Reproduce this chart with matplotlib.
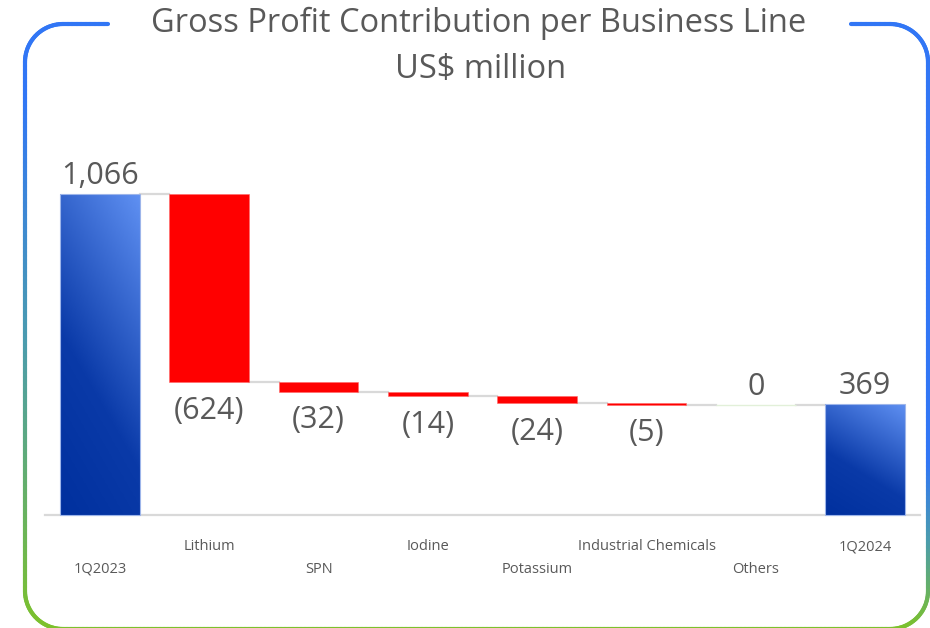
import numpy as np
import matplotlib
matplotlib.use("Agg")
import matplotlib.pyplot as plt
from matplotlib.collections import LineCollection
from matplotlib.colors import LinearSegmentedColormap

categories = ["1Q2023", "Lithium", "SPN", "Iodine", "Potassium",
              "Industrial Chemicals", "Others", "1Q2024"]
values = [1066, -624, -32, -14, -24, -5, 0, 369]
value_labels = ["1,066", "(624)", "(32)", "(14)", "(24)", "(5)", "0", "369"]
is_total = [True, False, False, False, False, False, False, True]

title = "Gross Profit Contribution per Business Line"
subtitle = r"US\$ million"

plt.rcParams["font.family"] = ["Open Sans", "DejaVu Sans"]
GRAY = "#595959"
RED = "#ff0000"
W, H = 930, 628

fig = plt.figure(figsize=(W / 100, H / 100), dpi=100)
ax = fig.add_axes([0, 0, 1, 1])
ax.axis("off")

bar_cmap = LinearSegmentedColormap.from_list(
    "bars", [(0, "#00309e"), (0.4, "#0a3aa8"), (1, "#5f90f2")])

# waterfall geometry
width = 0.73
n = len(values)
bottoms, tops = [], []
running = 0
for v, tot in zip(values, is_total):
    if tot:
        bottoms.append(0)
        tops.append(v)
        running = v
    else:
        bottoms.append(running)
        tops.append(running + v)
        running += v

u = np.linspace(0, 1, 60)
vv = np.linspace(0, 1, 200)
uu, vgrid = np.meshgrid(u, vv)
grad = 0.3 * uu + 0.7 * vgrid

for i, (b, t, tot) in enumerate(zip(bottoms, tops, is_total)):
    if tot:
        bar = ax.bar(i, t - b, bottom=b, width=width, color="none",
                     edgecolor="#9db5ea", linewidth=0.8, zorder=3)[0]
        im = ax.imshow(grad, extent=[i - width / 2, i + width / 2, b, t],
                       origin="lower", cmap=bar_cmap, aspect="auto", zorder=2)
        im.set_clip_path(bar)
    elif t == b:
        ax.bar(i, 0, bottom=b, width=width, color="#e2f0d9",
               edgecolor="#e2f0d9", linewidth=1.0, zorder=2)
    else:
        ax.bar(i, t - b, bottom=b, width=width, color=RED,
               edgecolor="#ff6666", linewidth=0.4, zorder=2)

# connectors
for i in range(n - 1):
    level = tops[i]
    ax.plot([i + width / 2, i + 1 - width / 2], [level, level],
            color="#d9d9d9", lw=1.6, zorder=1)

# baseline
ax.plot([-0.5, n - 0.5], [0, 0], color="#d9d9d9", lw=1.6, zorder=1)

# value labels
for i, (b, t, v, lab) in enumerate(zip(bottoms, tops, values, value_labels)):
    if v >= 0:
        ax.annotate(lab, (i, max(b, t)), xytext=(0, 2), textcoords="offset points",
                    ha="center", va="bottom", fontsize=22, color=GRAY)
    else:
        ax.annotate(lab, (i, min(b, t)), xytext=(0, -10), textcoords="offset points",
                    ha="center", va="top", fontsize=22, color=GRAY)

# staggered category labels
for i, cat in enumerate(categories):
    off = -39 if i % 2 == 0 else -23
    ax.annotate(cat, (i, 0), xytext=(0, off), textcoords="offset points",
                ha="center", va="center", fontsize=10.5, color=GRAY)

# map data so category 0 sits at x=100px, zero at y=515px
px_cat, px_unit = 109.3, 0.301
ax.set_xlim(-100 / px_cat, (W - 100) / px_cat)
ax.set_ylim(-(H - 515) / px_unit, 515 / px_unit)

fig.text(0.515, 1 - 23 / H, title, ha="center", va="center",
         fontsize=23.5, color=GRAY)
fig.text(0.517, 1 - 70 / H, subtitle, ha="center", va="center",
         fontsize=23.5, color=GRAY)

# rounded gradient frame with gaps for the title
bx = fig.add_axes([0, 0, 1, 1], zorder=-1)
bx.set_xlim(0, W)
bx.set_ylim(H, 0)
bx.axis("off")
L, R, T, B, r = 25, 928, 24, 629, 38


def arc(cx, cy, a0, a1):
    a = np.linspace(np.radians(a0), np.radians(a1), 30)
    return np.c_[cx + r * np.cos(a), cy + r * np.sin(a)]


pts = np.vstack([
    [[108, T], [L + r, T]],
    arc(L + r, T + r, 270, 180),
    [[L, B - r]],
    arc(L + r, B - r, 180, 90),
    [[R - r, B]],
    arc(R - r, B - r, 90, 0),
    [[R, T + r]],
    arc(R - r, T + r, 0, -90),
    [[851, T]],
])
# densify
dense = [pts[0]]
for p, q in zip(pts[:-1], pts[1:]):
    k = max(2, int(np.hypot(*(q - p)) / 4))
    seg = np.linspace(p, q, k)[1:]
    dense.extend(seg)
dense = np.array(dense)
segs = np.stack([dense[:-1], dense[1:]], axis=1)
mid = segs.mean(axis=1)
y0 = 100 + 0.4 * (mid[:, 0] - L)
tcol = np.clip((mid[:, 1] - y0) / (H - y0), 0, 1)
frame_cmap = LinearSegmentedColormap.from_list(
    "frame", [(0, "#3176f5"), (0.45, "#4a9bb0"), (1, "#7cc12c")])
lc = LineCollection(segs, colors=frame_cmap(tcol), linewidths=3.0,
                    capstyle="round")
bx.add_collection(lc)

fig.savefig("out.png", dpi=100)
